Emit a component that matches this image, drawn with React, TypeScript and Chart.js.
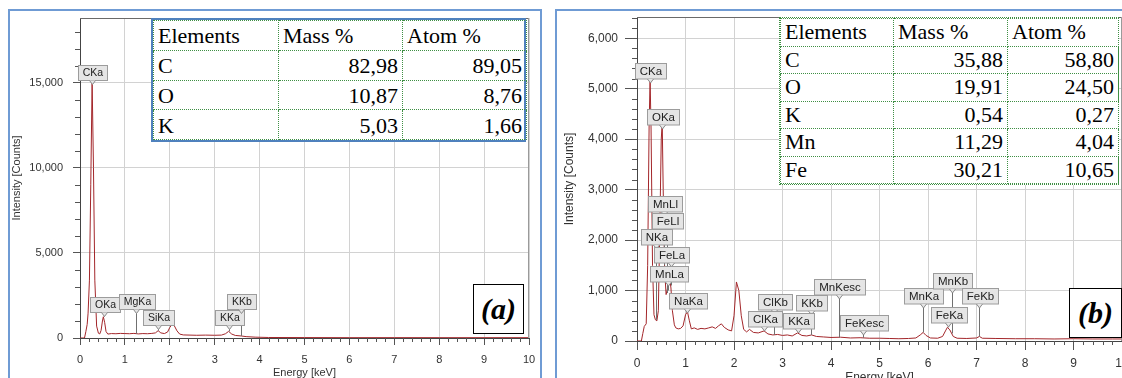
import React, { useEffect, useRef } from "react";
import { Chart, registerables } from "chart.js";

Chart.register(...registerables);

const SANS = '"Liberation Sans", Arial, sans-serif';
const SERIF = '"Liberation Serif", "Times New Roman", serif';

// ---------------- data ----------------
const energyTicks = [0, 1, 2, 3, 4, 5, 6, 7, 8, 9, 10];
const countTicksA = [0, 5000, 10000, 15000];
const countTicksB = [0, 1000, 2000, 3000, 4000, 5000, 6000];

// spectrum (a)
const energyA = [0, 0.1, 0.13, 0.16, 0.18, 0.21, 0.24, 0.27, 0.3, 0.33, 0.37, 0.41, 0.44, 0.47, 0.5, 0.52, 0.55, 0.58, 0.62, 0.7, 0.8, 0.9, 1.0, 1.1, 1.2, 1.3, 1.4, 1.5, 1.6, 1.68, 1.74, 1.8, 1.88, 1.95, 2.0, 2.05, 2.1, 2.16, 2.22, 2.3, 2.45, 2.6, 2.8, 3.0, 3.15, 3.24, 3.31, 3.38, 3.46, 3.59, 3.7, 3.9, 4.2, 5, 6, 7, 8, 9, 10];
const countsA = [0, 0, 370, 800, 1460, 3400, 9000, 15100, 10000, 3400, 700, 280, 240, 450, 1000, 1250, 900, 380, 230, 260, 250, 270, 260, 250, 270, 240, 260, 250, 270, 300, 430, 300, 260, 350, 620, 800, 720, 420, 230, 180, 170, 160, 170, 160, 170, 250, 390, 230, 150, 120, 80, 50, 30, 25, 20, 22, 20, 20, 20];

// spectrum (b)
const energyB = [0, 0.09, 0.12, 0.15, 0.19, 0.22, 0.25, 0.27, 0.29, 0.32, 0.35, 0.38, 0.41, 0.44, 0.47, 0.5, 0.52, 0.54, 0.57, 0.6, 0.62, 0.65, 0.68, 0.7, 0.73, 0.77, 0.8, 0.85, 0.9, 0.95, 1.0, 1.04, 1.08, 1.12, 1.18, 1.25, 1.32, 1.4, 1.48, 1.55, 1.62, 1.68, 1.74, 1.8, 1.88, 1.95, 2.0, 2.05, 2.1, 2.15, 2.2, 2.26, 2.32, 2.4, 2.5, 2.62, 2.7, 2.8, 2.9, 3.0, 3.1, 3.2, 3.31, 3.4, 3.5, 3.6, 3.7, 3.85, 4.0, 4.2, 4.4, 4.6, 4.8, 5.0, 5.2, 5.4, 5.6, 5.75, 5.84, 5.9, 5.96, 6.05, 6.2, 6.3, 6.36, 6.4, 6.45, 6.52, 6.6, 6.8, 7.0, 7.06, 7.12, 7.4, 7.8, 8.2, 8.6, 9.0, 9.4, 9.8, 10];
const countsB = [0, 0, 150, 290, 340, 1500, 4300, 5180, 4200, 1500, 520, 420, 400, 600, 2200, 4000, 4320, 3000, 1400, 920, 1000, 1150, 1200, 1050, 600, 320, 260, 240, 250, 300, 520, 580, 400, 240, 260, 230, 250, 240, 260, 280, 250, 300, 340, 270, 220, 200, 500, 1170, 1000, 500, 230, 180, 230, 170, 160, 200, 140, 120, 130, 110, 120, 100, 160, 110, 100, 120, 90, 80, 70, 75, 60, 65, 55, 55, 50, 45, 50, 60, 120, 170, 110, 60, 55, 90, 200, 270, 220, 90, 55, 50, 60, 90, 55, 50, 45, 45, 40, 45, 40, 40, 40];

// peak labels (a)
const peakNamesA = ["CKa", "OKa", "MgKa", "SiKa", "KKa", "KKb"];
const peakEnergyA = [0.277, 0.525, 1.253, 1.74, 3.313, 3.59];
const peakCountsA = [15100, 1250, 250, 430, 390, 120];

// peak labels (b)
const peakNamesB = ["CKa", "OKa", "MnLl", "FeLl", "NKa", "FeLa", "MnLa", "NaKa", "ClKb", "ClKa", "KKb", "KKa", "MnKesc", "FeKesc", "MnKa", "MnKb", "FeKa", "FeKb"];
const peakEnergyB = [0.277, 0.525, 0.556, 0.615, 0.392, 0.705, 0.637, 1.041, 2.815, 2.622, 3.59, 3.313, 4.16, 4.66, 5.899, 6.49, 6.404, 7.058];
const peakCountsB = [5180, 4320, 1500, 950, 420, 1100, 1000, 580, 120, 200, 120, 160, 70, 65, 170, 150, 270, 90];

// tables
const tableHead = ["Elements", "Mass %", "Atom %"];
const elementsA = ["C", "O", "K"];
const massA = ["82,98", "10,87", "5,03"];
const atomA = ["89,05", "8,76", "1,66"];
const elementsB = ["C", "O", "K", "Mn", "Fe"];
const massB = ["35,88", "19,91", "0,54", "11,29", "30,21"];
const atomB = ["58,80", "24,50", "0,27", "4,04", "10,65"];

// ---------------- layout (page pixels) ----------------
const labelTopsA = [65, 296.5, 293.5, 309.5, 309.5, 294];
const labelTopsB = [63.3, 108.5, 196, 212.7, 229.3, 246.5, 266, 293.3, 294, 311, 295, 312.7, 279.3, 315, 288.3, 272.7, 306.7, 288.3];

type Panel = {
  left: number; top: number; width: number; height: number;
  plotLeft: number; plotTop: number; plotRight: number; plotBottom: number;
  energies: number[]; counts: number[]; yMax: number; yTicks: number[];
  tickFont: number; titleFont: number; xTickLen: number; yTickLen: number; xTickPad: number; yTickPad: number;
  yTitlePad: number; xTitlePad: number;
  names: string[]; peakE: number[]; peakC: number[]; labelTops: number[]; labelH: number; labelFont: number; labelPad: number;
};

const panelA: Panel = {
  left: 11, top: 12, width: 529, height: 366,
  plotLeft: 80, plotTop: 18, plotRight: 529, plotBottom: 338,
  energies: energyA, counts: countsA, yMax: 18800, yTicks: countTicksA,
  tickFont: 11, titleFont: 11, xTickLen: 7, yTickLen: 7, xTickPad: 8, yTickPad: 10,
  yTitlePad: 0, xTitlePad: 0,
  names: peakNamesA, peakE: peakEnergyA, peakC: peakCountsA, labelTops: labelTopsA, labelH: 15, labelFont: 10.5, labelPad: 4.5,
};

const panelB: Panel = {
  left: 558, top: 12, width: 582, height: 375,
  plotLeft: 637, plotTop: 17, plotRight: 1122, plotBottom: 341,
  energies: energyB, counts: countsB, yMax: 6420, yTicks: countTicksB,
  tickFont: 12, titleFont: 12, xTickLen: 9, yTickLen: 12, xTickPad: 6, yTickPad: 7,
  yTitlePad: 6, xTitlePad: 3.5,
  names: peakNamesB, peakE: peakEnergyB, peakC: peakCountsB, labelTops: labelTopsB, labelH: 15.5, labelFont: 11.5, labelPad: 4.5,
};

function makeChart(canvas: HTMLCanvasElement, p: Panel) {
  const yScaleWidth = p.plotLeft - p.left;
  const xScaleHeight = p.top + p.height - p.plotBottom;

  const decor = {
    id: "decor",
    afterDatasetsDraw(chart: any) {
      const { ctx, chartArea: a } = chart;
      const xs = chart.scales.x;
      const ys = chart.scales.y;
      ctx.save();
      // frame top/right
      ctx.lineWidth = 1;
      ctx.strokeStyle = "#6a6a6a";
      ctx.beginPath();
      ctx.moveTo(a.left, Math.round(a.top) + 0.5);
      ctx.lineTo(a.right, Math.round(a.top) + 0.5);
      ctx.stroke();
      ctx.strokeStyle = "#9a9a9a";
      ctx.beginPath();
      ctx.moveTo(Math.round(a.right) - 0.5, a.top);
      ctx.lineTo(Math.round(a.right) - 0.5, a.bottom);
      ctx.stroke();
      // minor ticks
      ctx.strokeStyle = "#555";
      const xt = xs.ticks.map((t: any) => t.value);
      const xStep = (xt[1] - xt[0]) / 5;
      for (let k = 0; xs.min + k * xStep <= xs.max + 1e-9; k++) {
        if (k % 5 === 0) continue;
        const px = Math.round(xs.getPixelForValue(xs.min + k * xStep)) + 0.5;
        ctx.beginPath();
        ctx.moveTo(px, a.bottom);
        ctx.lineTo(px, a.bottom + 4);
        ctx.stroke();
      }
      const yt = ys.ticks.map((t: any) => t.value);
      const yStep = (yt[1] - yt[0]) / 5;
      for (let k = 0; ys.min + k * yStep <= ys.max + 1e-9; k++) {
        if (k % 5 === 0) continue;
        const py = Math.round(ys.getPixelForValue(ys.min + k * yStep)) + 0.5;
        ctx.beginPath();
        ctx.moveTo(a.left - 5, py);
        ctx.lineTo(a.left, py);
        ctx.stroke();
      }
      // peak labels
      ctx.font = `${p.labelFont}px ${SANS}`;
      const items = p.names.map((name, i) => {
        const px = Math.round(xs.getPixelForValue(p.peakE[i])) + 0.5;
        const py = ys.getPixelForValue(p.peakC[i]);
        const w = Math.round(ctx.measureText(name).width + 2 * p.labelPad);
        const top = Math.round(p.labelTops[i] - p.top) + 0.5;
        const left = Math.round(px - w / 2) + 0.5;
        return { name, px, py, w, top, left };
      });
      ctx.strokeStyle = "#707070";
      items.forEach((it) => {
        const b = it.top + p.labelH;
        if (it.py > b + 4) {
          ctx.beginPath();
          ctx.moveTo(it.px, b);
          ctx.lineTo(it.px, it.py);
          ctx.stroke();
        }
      });
      items.forEach((it) => {
        const b = it.top + p.labelH;
        ctx.fillStyle = "#e5e5e5";
        ctx.fillRect(it.left, it.top, it.w, p.labelH);
        ctx.strokeStyle = "#9c9c9c";
        ctx.strokeRect(it.left, it.top, it.w, p.labelH);
        ctx.beginPath();
        ctx.moveTo(it.px - 3, b);
        ctx.lineTo(it.px, b + 4);
        ctx.lineTo(it.px + 3, b);
        ctx.closePath();
        ctx.fillStyle = "#e5e5e5";
        ctx.fill();
        ctx.beginPath();
        ctx.moveTo(it.px - 3, b);
        ctx.lineTo(it.px, b + 4);
        ctx.lineTo(it.px + 3, b);
        ctx.strokeStyle = "#8a8a8a";
        ctx.stroke();
        ctx.fillStyle = "#222";
        ctx.textAlign = "center";
        ctx.textBaseline = "middle";
        ctx.fillText(it.name, it.left + it.w / 2, it.top + p.labelH / 2 + 0.5);
      });
      ctx.restore();
    },
  };

  return new Chart(canvas, {
    type: "line",
    data: {
      datasets: [
        {
          data: p.energies.map((e, i) => ({ x: e, y: p.counts[i] })),
          borderColor: "#a3262a",
          borderWidth: 1,
          pointRadius: 0,
          tension: 0,
          fill: false,
        },
      ],
    },
    options: {
      responsive: false,
      maintainAspectRatio: false,
      animation: false,
      events: [],
      layout: {
        padding: { left: 0, top: p.plotTop - p.top, right: p.left + p.width - p.plotRight, bottom: 0 },
      },
      plugins: { legend: { display: false }, tooltip: { enabled: false }, title: { display: false } },
      scales: {
        x: {
          type: "linear",
          min: 0,
          max: 10,
          afterBuildTicks: (s: any) => {
            s.ticks = energyTicks.map((v) => ({ value: v }));
          },
          afterFit: (s: any) => {
            s.height = xScaleHeight;
            s.paddingLeft = 0;
            s.paddingRight = 0;
          },
          grid: { color: "#d2d2d2", lineWidth: 1, drawTicks: true, tickLength: p.xTickLen, tickColor: "#555" },
          border: { display: true, color: "#444", width: 1 },
          ticks: {
            padding: p.xTickPad,
            color: "#333",
            font: { family: SANS, size: p.tickFont },
            maxRotation: 0,
            autoSkip: false,
            callback: (v: any) => String(v),
          },
          title: {
            display: true,
            text: "Energy [keV]",
            color: "#333",
            font: { family: SANS, size: p.titleFont, lineHeight: 1 },
            padding: { top: 0, bottom: p.xTitlePad },
          },
        },
        y: {
          type: "linear",
          min: 0,
          max: p.yMax,
          afterBuildTicks: (s: any) => {
            s.ticks = p.yTicks.map((v) => ({ value: v }));
          },
          afterFit: (s: any) => {
            s.width = yScaleWidth;
            s.paddingTop = 0;
            s.paddingBottom = 0;
          },
          grid: { color: "#d2d2d2", lineWidth: 1, drawTicks: true, tickLength: p.yTickLen, tickColor: "#555" },
          border: { display: true, color: "#444", width: 1 },
          ticks: {
            padding: p.yTickPad,
            color: "#333",
            font: { family: SANS, size: p.tickFont },
            autoSkip: false,
            callback: (v: any) => Number(v).toLocaleString("en-US"),
          },
          title: {
            display: true,
            text: "Intensity [Counts]",
            color: "#333",
            font: { family: SANS, size: p.titleFont, lineHeight: 1 },
            padding: { top: p.yTitlePad, bottom: 0 },
          },
        },
      },
    },
    plugins: [decor],
  } as any);
}

function DataTable(props: {
  left: number; top: number; width: number; height: number; cols: number[];
  rows: string[][]; outer: string; padTop: number;
}) {
  const { left, top, width, height, cols, rows, outer, padTop } = props;
  const cell = "1px dotted #3f8f44";
  return (
    <div
      style={{
        position: "absolute", left, top, width, height, boxSizing: "border-box",
        border: outer, background: "#fff",
      }}
    >
      <table
        style={{
          width: "100%", height: "100%", borderCollapse: "collapse", tableLayout: "fixed",
          fontFamily: SERIF, fontSize: 22, color: "#000",
        }}
      >
        <colgroup>
          {cols.map((w, i) => (
            <col key={i} style={{ width: w }} />
          ))}
        </colgroup>
        <tbody>
          {rows.map((r, ri) => (
            <tr key={ri}>
              {r.map((c, ci) => (
                <td
                  key={ci}
                  style={{
                    border: cell, padding: `${padTop}px 4px 0 4px`, lineHeight: 1,
                    textAlign: ri === 0 || ci === 0 ? "left" : "right", whiteSpace: "nowrap",
                    overflow: "hidden", verticalAlign: "middle",
                  }}
                >
                  {c}
                </td>
              ))}
            </tr>
          ))}
        </tbody>
      </table>
    </div>
  );
}

function PanelTag(props: { left: number; top: number; width: number; height: number; text: string }) {
  const { left, top, width, height, text } = props;
  return (
    <div
      style={{
        position: "absolute", left, top, width, height, boxSizing: "border-box",
        border: "1.5px solid #000", background: "#fff", display: "flex",
        alignItems: "center", justifyContent: "center",
        fontFamily: SERIF, fontWeight: "bold", fontStyle: "italic", fontSize: 30, lineHeight: 1,
      }}
    >
      {text}
    </div>
  );
}

export default function App() {
  const refA = useRef<HTMLCanvasElement>(null);
  const refB = useRef<HTMLCanvasElement>(null);

  useEffect(() => {
    const a = makeChart(refA.current as HTMLCanvasElement, panelA);
    const b = makeChart(refB.current as HTMLCanvasElement, panelB);
    return () => {
      a.destroy();
      b.destroy();
    };
  }, []);

  const rowsA = [tableHead, ...elementsA.map((e, i) => [e, massA[i], atomA[i]])];
  const rowsB = [tableHead, ...elementsB.map((e, i) => [e, massB[i], atomB[i]])];

  return (
    <div
      style={{
        position: "absolute", left: 0, top: 0, width: 1122, height: 378,
        overflow: "hidden", background: "#fff",
      }}
    >
      <div style={{ position: "absolute", left: 8, top: 9, width: 534, height: 400, border: "2px solid #6f9bd4", boxSizing: "border-box" }} />
      <div style={{ position: "absolute", left: 555, top: 9, width: 600, height: 400, border: "2px solid #6f9bd4", boxSizing: "border-box" }} />
      <canvas ref={refA} width={panelA.width} height={panelA.height} style={{ position: "absolute", left: panelA.left, top: panelA.top }} />
      <canvas ref={refB} width={panelB.width} height={panelB.height} style={{ position: "absolute", left: panelB.left, top: panelB.top }} />
      <DataTable left={151} top={18} width={375} height={124} cols={[125, 124, 124]} rows={rowsA} outer="2px solid #4f81bd" padTop={2} />
      <DataTable left={779} top={17} width={340} height={168} cols={[113, 114, 111]} rows={rowsB} outer="1px dotted #3f8f44" padTop={0} />
      <PanelTag left={473} top={284} width={51} height={50} text="(a)" />
      <PanelTag left={1069} top={288} width={53} height={50} text="(b)" />
    </div>
  );
}
